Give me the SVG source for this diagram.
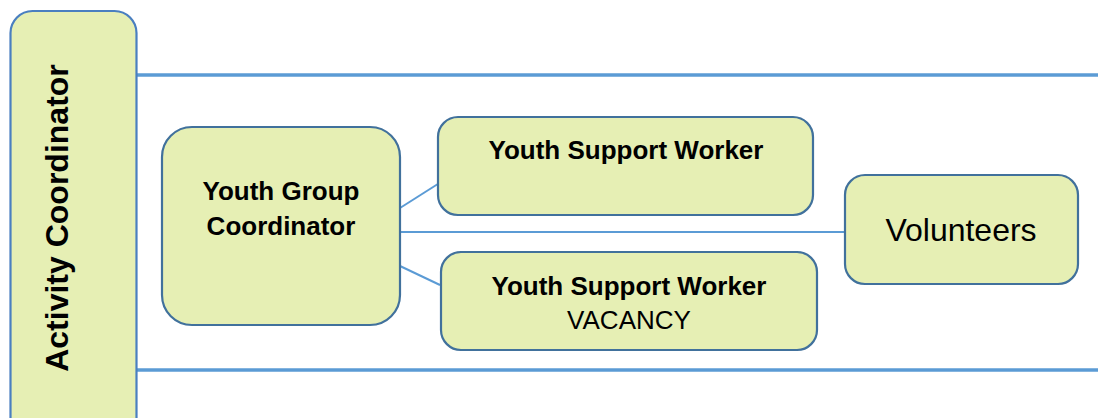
<svg xmlns="http://www.w3.org/2000/svg" width="1098" height="418" viewBox="0 0 1098 418">
  <style>
    .box { fill: #e6efb4; stroke: #41719c; stroke-width: 2.2; }
    .band { stroke: #5b9bd5; stroke-width: 3.5; fill: none; }
    .link { stroke: #5b9bd5; stroke-width: 2; fill: none; }
    .b { font-family: "Liberation Sans", Arial, sans-serif; font-weight: bold; font-size: 26px; fill: #000; text-anchor: middle; }
    .r { font-family: "Liberation Sans", Arial, sans-serif; font-size: 26px; fill: #000; text-anchor: middle; }
  </style>

  <!-- horizontal bands -->
  <g id="connectors">
    <line class="band" x1="137" y1="75" x2="1098" y2="75"/>
    <line class="band" x1="137" y1="370" x2="1098" y2="370"/>
    <line class="link" x1="400" y1="208" x2="441" y2="182"/>
    <line class="link" x1="400" y1="232" x2="846" y2="232"/>
    <line class="link" x1="400" y1="266" x2="440" y2="285"/>
  </g>

  <g id="activity-coordinator">
    <rect x="10.5" y="11" width="126" height="430" rx="22" fill="#e6efb4" stroke="#4a7fc0" stroke-width="2.2"/>
    <text class="b" style="font-size:32px" transform="translate(68,218) rotate(-90)" x="0" y="0">Activity Coordinator</text>
  </g>

  <g id="youth-group-coordinator">
    <rect class="box" x="162" y="127" width="238" height="198" rx="30"/>
    <text class="b" x="281" y="200">Youth Group</text>
    <text class="b" x="281" y="235">Coordinator</text>
  </g>

  <g id="youth-support-worker-1">
    <rect class="box" x="438" y="117" width="375" height="98" rx="20"/>
    <text class="b" x="626" y="159">Youth Support Worker</text>
  </g>

  <g id="youth-support-worker-2">
    <rect class="box" x="441" y="252" width="376" height="98" rx="20"/>
    <text class="b" x="629" y="295">Youth Support Worker</text>
    <text class="r" x="629" y="329">VACANCY</text>
  </g>

  <g id="volunteers">
    <rect class="box" x="845" y="175" width="233" height="109" rx="20"/>
    <text class="r" style="font-size:32px" x="961" y="241">Volunteers</text>
  </g>
</svg>
